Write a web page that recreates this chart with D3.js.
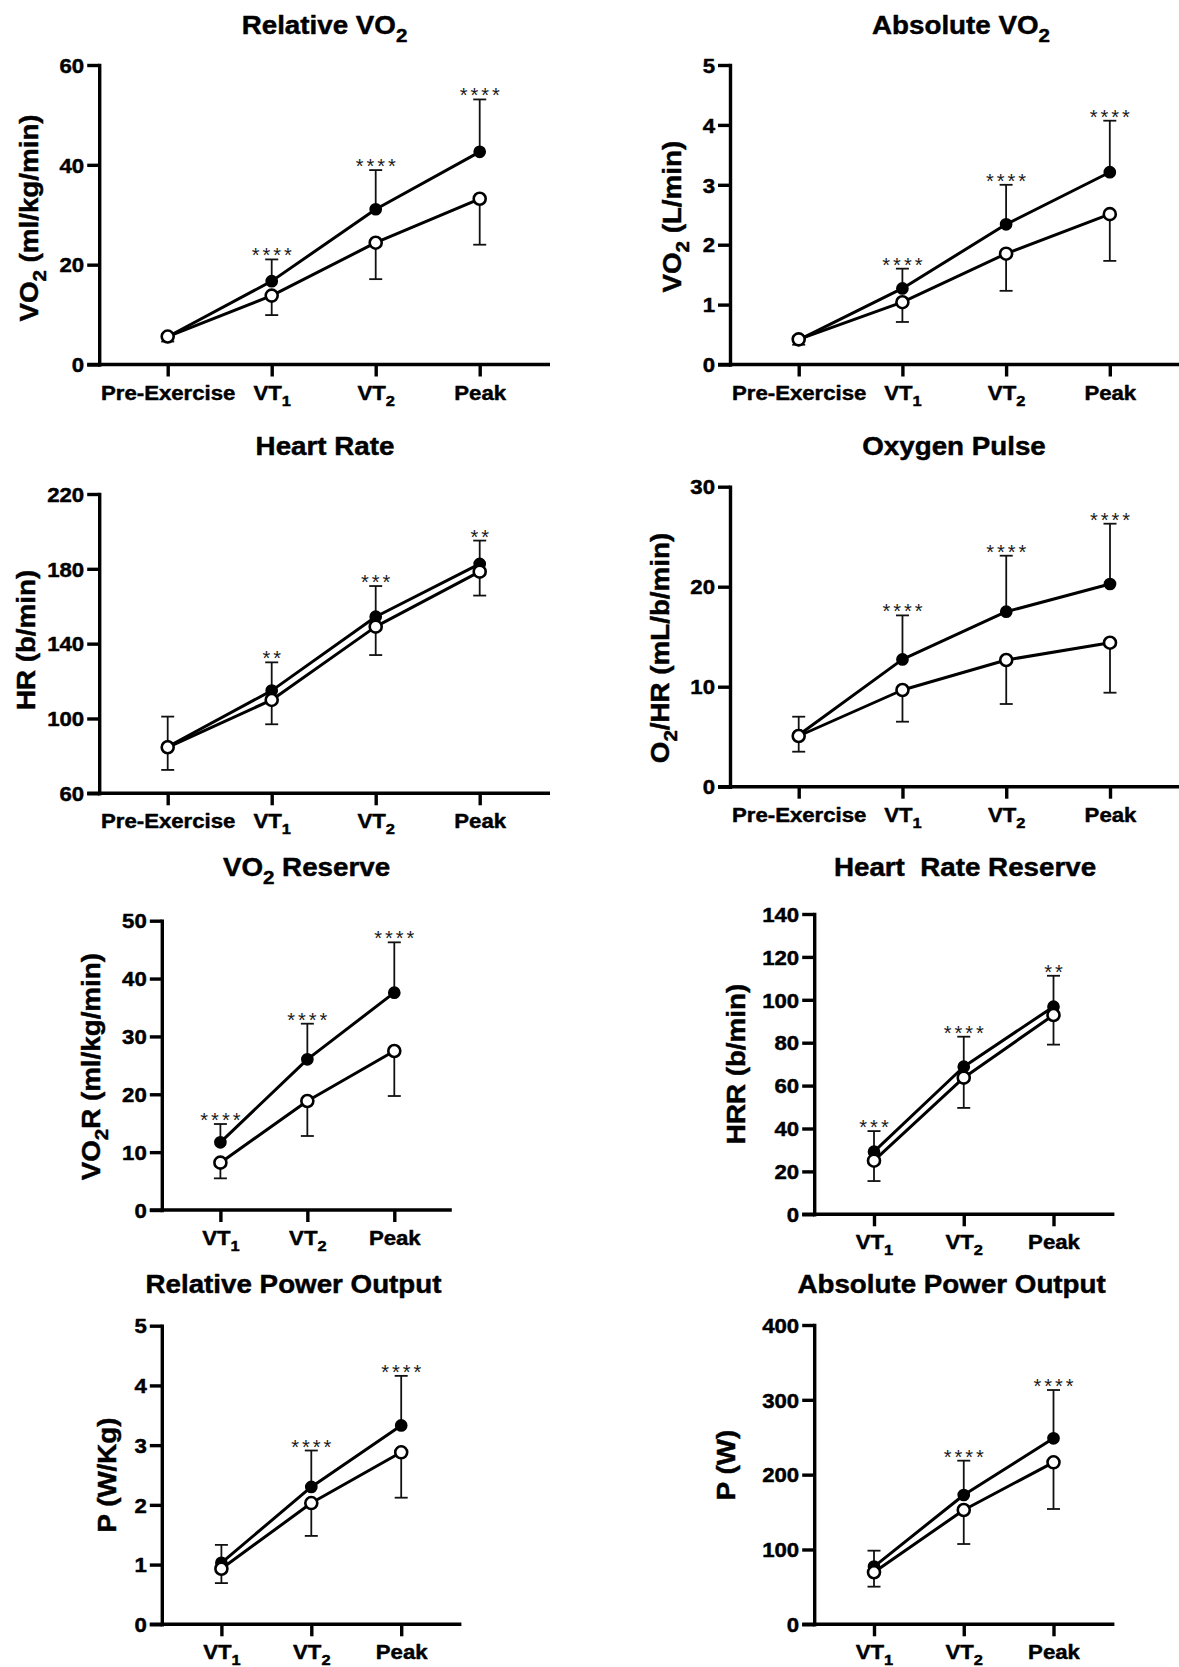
<!DOCTYPE html>
<html><head><meta charset="utf-8">
<script src="https://cdn.jsdelivr.net/npm/d3@7"></script>
<style>
html,body{margin:0;padding:0;background:#fff;}
</style></head><body>
<svg id="chart" width="1179" height="1667" xmlns="http://www.w3.org/2000/svg"></svg>
<script>
// ---------- categories ----------
const catsFull = ["Pre-Exercise", "VT1", "VT2", "Peak"];
const catsThr = ["VT1", "VT2", "Peak"];

// ---------- Relative VO2 ----------
const relVO2Ticks = [0, 20, 40, 60];
const relVO2Filled = [5.55, 16.7, 31.1, 42.6];
const relVO2FilledSD = [0.6, 4.35, 7.85, 10.5];
const relVO2Open = [5.6, 13.8, 24.4, 33.2];
const relVO2OpenSD = [1.0, 3.9, 7.3, 9.2];
const relVO2Sig = ["", "****", "****", "****"];

// ---------- Absolute VO2 ----------
const absVO2Ticks = [0, 1, 2, 3, 4, 5];
const absVO2Filled = [0.41, 1.27, 2.34, 3.21];
const absVO2FilledSD = [0.06, 0.33, 0.66, 0.86];
const absVO2Open = [0.42, 1.04, 1.85, 2.51];
const absVO2OpenSD = [0.09, 0.33, 0.62, 0.78];
const absVO2Sig = ["", "****", "****", "****"];

// ---------- Heart Rate ----------
const hrTicks = [60, 100, 140, 180, 220];
const hrFilled = [84.9, 114.9, 154.4, 182.6];
const hrFilledSD = [16.1, 15.1, 16.4, 12.5];
const hrOpen = [84.6, 109.9, 149.1, 178.5];
const hrOpenSD = [12.1, 13.0, 15.2, 12.8];
const hrSig = ["", "**", "***", "**"];

// ---------- Oxygen Pulse ----------
const o2pTicks = [0, 10, 20, 30];
const o2pFilled = [5.17, 12.73, 17.5, 20.27];
const o2pFilledSD = [1.83, 4.4, 5.6, 6.03];
const o2pOpen = [5.07, 9.67, 12.67, 14.4];
const o2pOpenSD = [1.57, 3.17, 4.4, 5.0];
const o2pSig = ["", "****", "****", "****"];

// ---------- VO2 Reserve ----------
const vo2rTicks = [0, 10, 20, 30, 40, 50];
const vo2rFilled = [11.69, 26.04, 37.56];
const vo2rFilledSD = [3.17, 6.16, 8.7];
const vo2rOpen = [8.18, 18.84, 27.48];
const vo2rOpenSD = [2.71, 6.05, 7.78];
const vo2rSig = ["****", "****", "****"];

// ---------- Heart Rate Reserve ----------
const hrrTicks = [0, 20, 40, 60, 80, 100, 120, 140];
const hrrFilled = [29.2, 68.8, 96.8];
const hrrFilledSD = [9.6, 14.0, 14.4];
const hrrOpen = [25.0, 63.7, 92.9];
const hrrOpenSD = [9.5, 14.1, 13.8];
const hrrSig = ["***", "****", "**"];

// ---------- Relative Power Output ----------
const relPTicks = [0, 1, 2, 3, 4, 5];
const relPFilled = [1.03, 2.30, 3.33];
const relPFilledSD = [0.30, 0.61, 0.83];
const relPOpen = [0.93, 2.03, 2.88];
const relPOpenSD = [0.24, 0.55, 0.76];
const relPSig = ["", "****", "****"];

// ---------- Absolute Power Output ----------
const absPTicks = [0, 100, 200, 300, 400];
const absPFilled = [77.1, 172.8, 248.6];
const absPFilledSD = [21.3, 45.9, 64.5];
const absPOpen = [69.5, 152.8, 216.5];
const absPOpenSD = [19.2, 45.5, 62.4];
const absPSig = ["", "****", "****"];

// ---------- panels (data + layout) ----------
const panels = [
  {title:[["Relative VO"],["2",1]], ylab:[["VO"],["2",1],[" (ml/kg/min)"]], cats:catsFull, ticks:relVO2Ticks,
   f:relVO2Filled, fsd:relVO2FilledSD, o:relVO2Open, osd:relVO2OpenSD, sig:relVO2Sig,
   L:{ax:99.2, axEnd:550, c0:167.7, c1:479.7, yTop:65, yBot:364.5, tx:324.5, ty:34, lx:38, ly:218}},
  {title:[["Absolute VO"],["2",1]], ylab:[["VO"],["2",1],[" (L/min)"]], cats:catsFull, ticks:absVO2Ticks,
   f:absVO2Filled, fsd:absVO2FilledSD, o:absVO2Open, osd:absVO2OpenSD, sig:absVO2Sig,
   L:{ax:730, axEnd:1192, c0:798.7, c1:1109.8, yTop:65, yBot:364.5, tx:961, ty:34, lx:681, ly:216.7}},
  {title:[["Heart Rate"]], ylab:[["HR (b/min)"]], cats:catsFull, ticks:hrTicks,
   f:hrFilled, fsd:hrFilledSD, o:hrOpen, osd:hrOpenSD, sig:hrSig,
   L:{ax:99.2, axEnd:550, c0:167.7, c1:479.7, yTop:494, yBot:793.3, tx:325, ty:455, lx:35, ly:640}},
  {title:[["Oxygen Pulse"]], ylab:[["O"],["2",1],["/HR (mL/b/min)"]], cats:catsFull, ticks:o2pTicks,
   f:o2pFilled, fsd:o2pFilledSD, o:o2pOpen, osd:o2pOpenSD, sig:o2pSig,
   L:{ax:730, axEnd:1192, c0:798.7, c1:1110, yTop:486.7, yBot:786.7, tx:954, ty:455, lx:669, ly:648}},
  {title:[["VO"],["2",1],[" Reserve"]], ylab:[["VO"],["2",1],["R (ml/kg/min)"]], cats:catsThr, ticks:vo2rTicks,
   f:vo2rFilled, fsd:vo2rFilledSD, o:vo2rOpen, osd:vo2rOpenSD, sig:vo2rSig,
   L:{ax:161.8, axEnd:451.8, c0:220.4, c1:394.3, yTop:920.7, yBot:1210, tx:306.5, ty:876, lx:100, ly:1066.7}},
  {title:[["Heart  Rate Reserve"]], ylab:[["HRR (b/min)"]], cats:catsThr, ticks:hrrTicks,
   f:hrrFilled, fsd:hrrFilledSD, o:hrrOpen, osd:hrrOpenSD, sig:hrrSig,
   L:{ax:814.2, axEnd:1114.4, c0:874, c1:1053.5, yTop:914, yBot:1214.3, tx:965, ty:876, lx:744.6, ly:1064}},
  {title:[["Relative Power Output"]], ylab:[["P (W/Kg)"]], cats:catsThr, ticks:relPTicks,
   f:relPFilled, fsd:relPFilledSD, o:relPOpen, osd:relPOpenSD, sig:relPSig,
   L:{ax:161.8, axEnd:461.4, c0:221.4, c1:401.2, yTop:1325.7, yBot:1624.3, tx:293.5, ty:1292.7, lx:115.5, ly:1475}},
  {title:[["Absolute Power Output"]], ylab:[["P (W)"]], cats:catsThr, ticks:absPTicks,
   f:absPFilled, fsd:absPFilledSD, o:absPOpen, osd:absPOpenSD, sig:absPSig,
   L:{ax:814.2, axEnd:1114.4, c0:874, c1:1053.5, yTop:1325, yBot:1624.3, tx:951.6, ty:1292.7, lx:735.3, ly:1465}}
];

const FONT = '"Liberation Sans", Arial, Helvetica, sans-serif';
const SX = 1.11;           // horizontal stretch of the original lettering
const TITLE_FS = 25, TICK_FS = 20, SIG_FS = 20;
const TXT_STROKE = 0.45;   // slight thickening to match the heavier original glyphs
const svg = d3.select("#chart");

function rich(textSel, parts, size) {
  let prevSub = false;
  const shift = size * 0.3;
  parts.forEach(([t, sub]) => {
    const ts = textSel.append("tspan").text(t);
    if (sub) { ts.attr("font-size", size * 0.74).attr("dy", shift); prevSub = true; }
    else if (prevSub) { ts.attr("dy", -shift); prevSub = false; }
  });
}
function catParts(c) {
  return c.startsWith("VT") ? [["VT"], [c.slice(2), 1]] : [[c]];
}
function heavy(sel) {
  return sel.attr("stroke", "#000").attr("stroke-width", TXT_STROKE).attr("stroke-linejoin", "round");
}

panels.forEach(p => {
  const L = p.L;
  const g = svg.append("g");
  const y = d3.scaleLinear().domain([p.ticks[0], p.ticks[p.ticks.length - 1]]).range([L.yBot, L.yTop]);
  const x = d3.scalePoint().domain(p.cats).range([L.c0, L.c1]);

  // title
  const tt = g.append("g").attr("transform", `translate(${L.tx},${L.ty}) scale(${SX},1)`)
    .append("text").attr("text-anchor", "middle").attr("font-family", FONT).attr("font-weight", "bold")
    .attr("font-size", TITLE_FS).attr("fill", "#000").style("white-space", "pre");
  heavy(tt);
  rich(tt, p.title, TITLE_FS);

  // y label
  const yl = g.append("g").attr("transform", `translate(${L.lx},${L.ly}) rotate(-90) scale(${SX},1)`)
    .append("text").attr("text-anchor", "middle").attr("font-family", FONT).attr("font-weight", "bold")
    .attr("font-size", TITLE_FS).attr("fill", "#000").style("white-space", "pre");
  heavy(yl);
  rich(yl, p.ylab, TITLE_FS);

  // x axis baseline (extends left to the length of the y ticks)
  g.append("line").attr("x1", L.ax - 12).attr("x2", L.axEnd).attr("y1", L.yBot).attr("y2", L.yBot)
    .attr("stroke", "#000").attr("stroke-width", 3.4);

  // y axis
  const gy = g.append("g").attr("transform", `translate(${L.ax},0)`)
    .call(d3.axisLeft(y).tickValues(p.ticks).tickFormat(d3.format("d")).tickSize(12).tickSizeOuter(0).tickPadding(4));
  gy.attr("font-family", FONT).attr("font-size", TICK_FS).attr("font-weight", "bold");
  gy.select(".domain").attr("stroke-width", 3.4).attr("stroke-linecap", "square").attr("stroke", "#000");
  gy.selectAll(".tick line").attr("stroke-width", 3.4).attr("stroke", "#000");
  const ytx = gy.selectAll(".tick text").attr("x", 0).attr("dy", "0.36em").attr("fill", "#000")
    .attr("transform", `translate(-15,0) scale(${SX},1)`);
  heavy(ytx);

  // x axis ticks & labels
  const gx = g.append("g").attr("transform", `translate(0,${L.yBot})`)
    .call(d3.axisBottom(x).tickSize(12).tickSizeOuter(0));
  gx.attr("font-family", FONT).attr("font-size", TICK_FS).attr("font-weight", "bold");
  gx.select(".domain").remove();
  gx.selectAll(".tick line").attr("stroke-width", 3.4).attr("stroke", "#000");
  gx.selectAll(".tick text").each(function (d) {
    const t = d3.select(this);
    t.text(null).attr("y", 0).attr("dy", null).attr("fill", "#000").style("white-space", "pre")
      .attr("transform", `translate(0,35) scale(${SX},1)`);
    heavy(t);
    rich(t, catParts(d), TICK_FS);
  });

  const line = d3.line().x((d, i) => x(p.cats[i])).y(d => y(d));

  function series(vals, sds, dir, filled) {
    const s = g.append("g");
    // error bars
    vals.forEach((v, i) => {
      const cx = x(p.cats[i]);
      const e = y(v + dir * sds[i]);
      s.append("line").attr("x1", cx).attr("x2", cx).attr("y1", y(v)).attr("y2", e)
        .attr("stroke", "#111").attr("stroke-width", 1.8);
      s.append("line").attr("x1", cx - 6.5).attr("x2", cx + 6.5).attr("y1", e).attr("y2", e)
        .attr("stroke", "#111").attr("stroke-width", 1.8);
    });
    s.append("path").datum(vals).attr("d", line).attr("fill", "none")
      .attr("stroke", "#000").attr("stroke-width", 3).attr("stroke-linejoin", "round");
    s.selectAll("circle").data(vals).join("circle")
      .attr("cx", (d, i) => x(p.cats[i])).attr("cy", d => y(d))
      .attr("r", filled ? 5.6 : 6)
      .attr("fill", filled ? "#000" : "#fff").attr("stroke", "#000")
      .attr("stroke-width", filled ? 1.5 : 2.6);
  }
  series(p.f, p.fsd, 1, true);
  series(p.o, p.osd, -1, false);

  // significance stars
  p.sig.forEach((s, i) => {
    if (!s) return;
    g.append("text").attr("x", x(p.cats[i]) + 1.5).attr("y", y(p.f[i] + p.fsd[i]) + 3)
      .attr("text-anchor", "middle").attr("font-family", FONT).attr("font-size", SIG_FS)
      .attr("letter-spacing", 3).attr("fill", "#1a1a1a").text(s);
  });
});
</script>
</body></html>
